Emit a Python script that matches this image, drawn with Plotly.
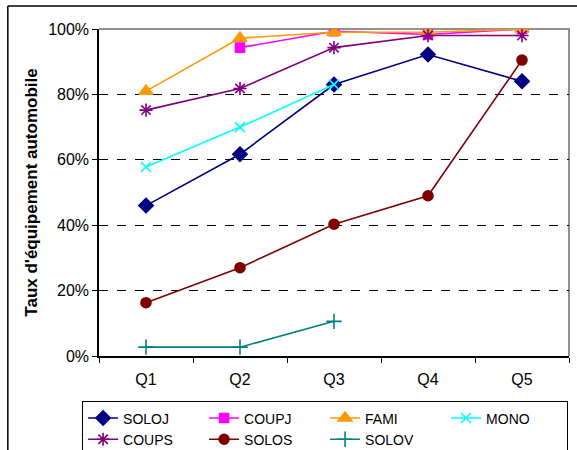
import plotly.graph_objects as go

categories = ["Q1", "Q2", "Q3", "Q4", "Q5"]
soloj = [0.46, 0.617, 0.83, 0.922, 0.84]
coupj = [None, 0.943, 0.993, 0.983, 1.0]
fami = [0.81, 0.972, 0.99, 0.99, 1.0]
mono = [0.578, 0.70, 0.83, None, None]
coups = [0.752, 0.818, 0.943, 0.98, 0.98]
solos = [0.163, 0.27, 0.403, 0.49, 0.905]
solov = [0.027, 0.027, 0.106, None, None]

series = [
    ("SOLOJ", soloj, "#000080", "diamond", 11),
    ("COUPJ", coupj, "#FF00FF", "square", 9),
    ("FAMI", fami, "#FF9900", "triangle-up", 12),
    ("MONO", mono, "#00FFFF", "x-thin-open", 10),
    ("COUPS", coups, "#800080", "asterisk-open", 11),
    ("SOLOS", solos, "#800000", "circle", 10),
    ("SOLOV", solov, "#008080", "cross-thin-open", 11),
]

fig = go.Figure()
for name, vals, color, sym, size in series:
    fig.add_trace(go.Scatter(
        x=categories, y=vals, name=name, mode="lines+markers",
        connectgaps=False,
        line=dict(color=color, width=1.6),
        marker=dict(symbol=sym, size=size, color=color,
                    line=dict(color=color, width=1.6)),
    ))

font = "Liberation Sans, Arial, sans-serif"
fig.update_layout(
    width=577, height=450,
    margin=dict(l=99, r=8, t=29, b=94, autoexpand=False),
    paper_bgcolor="white", plot_bgcolor="white",
    font=dict(family=font, size=16, color="black"),
    showlegend=True,
    legend=dict(
        orientation="h", x=-0.036, y=-0.139, xanchor="left", yanchor="top",
        bordercolor="black", borderwidth=1, font=dict(size=14),
        entrywidth=76, entrywidthmode="pixels", tracegroupgap=0,
        traceorder="normal",
    ),
    xaxis=dict(
        type="category", range=[-0.5, 4.5], showgrid=False,
        showline=True, linecolor="black", linewidth=1.5,
        ticks="outside", ticklen=5, tickcolor="black", tickson="boundaries",
        ticklabelstandoff=8, zeroline=False,
    ),
    yaxis=dict(
        range=[0, 1.0], dtick=0.2, tickformat=".0%",
        showgrid=True, gridcolor="black", griddash="dash", gridwidth=1,
        showline=True, linecolor="black", linewidth=1.5,
        ticks="outside", ticklen=5, tickcolor="black", zeroline=False,
        title=dict(text="<b>Taux d'équipement automobile</b>",
                   font=dict(size=17), standoff=6),
    ),
    shapes=[
        dict(type="path", xref="paper", yref="paper",
             path="M 0 1 L 1 1 L 1 0", line=dict(color="#909090", width=2),
             layer="between"),
        dict(type="line", xref="paper", yref="paper", x0=-0.194, x1=1.05,
             y0=1.07, y1=1.07, line=dict(color="black", width=1.5)),
        dict(type="line", xref="paper", yref="paper", x0=-0.194, x1=-0.194,
             y0=1.07, y1=-0.3, line=dict(color="black", width=1.5)),
    ],
)

fig.write_html("out.html", config={"displayModeBar": False},
               post_script="document.body.style.margin='0';document.body.style.padding='0';")
